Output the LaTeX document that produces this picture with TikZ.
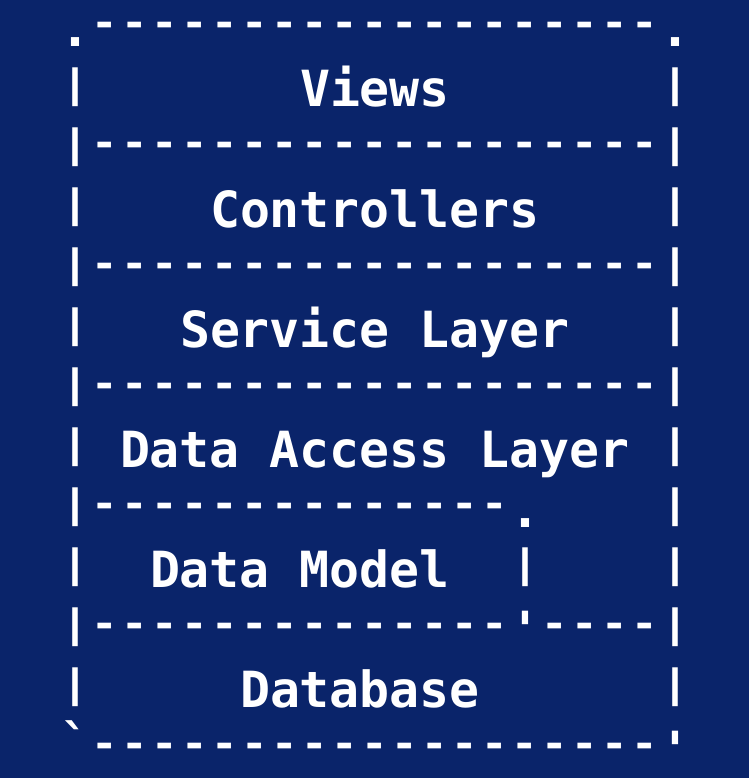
\documentclass[tikz,border=0pt]{standalone}
\usepackage{fontspec}
\usepackage{graphicx}
\setmonofont{DejaVu Sans Mono}
\definecolor{bg}{RGB}{10,36,106}
\newcommand\hy{\makebox[0.60205em]{\raisebox{10pt}{\scalebox{0.88}[0.8]{-}}}}
\newcommand\vb{\makebox[0.60205em]{\raisebox{9.2pt}{\scalebox{1}[0.78]{|}}}}
\ExplSyntaxOn
\NewDocumentCommand\hys{m}{\prg_replicate:nn{#1}{\hy}}
\ExplSyntaxOff
\begin{document}
\begin{tikzpicture}[x=1pt,y=1pt,
  row/.style={anchor=base west, inner sep=0pt, outer sep=0pt, text=white,
    font=\ttfamily\bfseries\fontsize{49.83}{60}\selectfont}]
\fill[bg] (0,0) rectangle (749,-778);
\useasboundingbox (0,0) rectangle (749,-778);
\node[row] (r0)  at (60,-47)  {.\hys{19}.};
\node[row] (r1)  at (60,-107) {\vb~~~~~~~Views~~~~~~~\vb};
\node[row] (r2)  at (60,-167) {\vb\hys{19}\vb};
\node[row] (r3)  at (60,-227) {\vb~~~~Controllers~~~~\vb};
\node[row] (r4)  at (60,-287) {\vb\hys{19}\vb};
\node[row] (r5)  at (60,-347) {\vb~~~Service~Layer~~~\vb};
\node[row] (r6)  at (60,-407) {\vb\hys{19}\vb};
\node[row] (r7)  at (60,-467) {\vb~Data~Access~Layer~\vb};
\node[row] (r8)  at (60,-527) {\vb\hys{14}.~~~~\vb};
\node[row] (r9)  at (60,-587) {\vb~~Data~Model~~\vb~~~~\vb};
\node[row] (r10) at (60,-647) {\vb\hys{14}'\hys{4}\vb};
\node[row] (r11) at (60,-707) {\vb~~~~~Database~~~~~~\vb};
\node[row] (r12) at (60,-767) {\raisebox{7pt}{`}\hys{19}'};
\end{tikzpicture}
\end{document}
